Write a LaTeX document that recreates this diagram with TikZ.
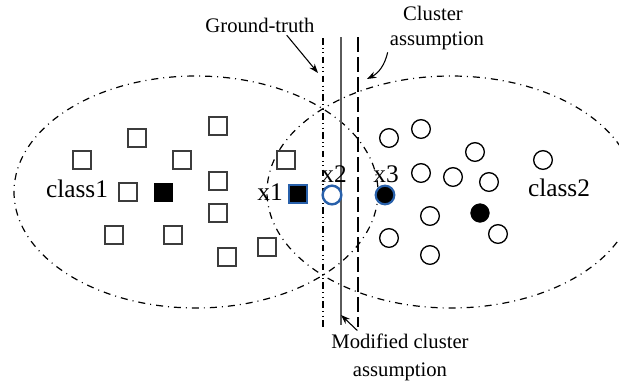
\documentclass[tikz,border=0pt]{standalone}
\usepackage{fontspec}
\setmainfont{Liberation Serif}
\usetikzlibrary{arrows.meta}

\definecolor{ptblue}{RGB}{40,96,170}
\definecolor{sqgray}{RGB}{60,60,60}
\definecolor{linegray}{RGB}{90,90,90}

\tikzset{
  sq/.style={draw=sqgray,line width=1.2pt,fill=white,minimum size=13.5pt,inner sep=0pt},
  fullsq/.style={draw=black,fill=black,minimum size=13.5pt,inner sep=0pt},
  dot/.style={circle,draw=black,line width=1pt,fill=white,minimum size=14pt,inner sep=0pt},
  fulldot/.style={circle,draw=black,fill=black,minimum size=14pt,inner sep=0pt},
  note/.style={font=\fontsize{15.5}{18}\selectfont,inner sep=2pt},
  lbl/.style={font=\fontsize{19}{22}\selectfont,inner sep=1pt},
  clustline/.style={line width=0.9pt,dash pattern=on 5.25pt off 3.75pt on 0.75pt off 3.75pt},
  gtline/.style={line width=0.9pt,dash pattern=on 5pt off 2.5pt on 0.8pt off 2.5pt on 0.8pt off 2.5pt},
  caline/.style={line width=1pt,dash pattern=on 11pt off 4pt},
  pointer/.style={line width=0.8pt,-{Stealth[length=7pt,width=5pt]}}
}

\begin{document}
\begin{tikzpicture}[x=0.75pt,y=-0.75pt]
\useasboundingbox (0,0) rectangle (619,383);

% the two classes
\draw[clustline] (196,192) ellipse [x radius=182,y radius=116];
\draw[clustline] (451,192) ellipse [x radius=184,y radius=116];

% separating lines
\coordinate (gttop) at (323,38);
\coordinate (gtbot) at (323,327);
\coordinate (mctop) at (341,37);
\coordinate (mcbot) at (341,325);
\coordinate (catop) at (358,37);
\coordinate (cabot) at (358,327);
\draw[gtline] (gttop) -- (gtbot);
\draw[linegray,line width=1.5pt] (mctop) -- (mcbot);
\draw[caline] (catop) -- (cabot);

% class 1 samples
\node[sq] (s1) at (137,138) {};
\node[sq] (s2) at (218,126) {};
\node[sq] (s3) at (82,160) {};
\node[sq] (s4) at (182,160) {};
\node[sq] (s5) at (128,192) {};
\node[sq] (s6) at (218,181) {};
\node[sq] (s7) at (218,213) {};
\node[sq] (s8) at (114,235) {};
\node[sq] (s9) at (173,235) {};
\node[sq] (s10) at (227,257) {};
\node[sq] (s11) at (267,247) {};
\node[sq] (s12) at (286,160) {};
\node[fullsq] (c1) at (163,192) {};

% class 2 samples
\node[dot] (d1) at (389,138) {};
\node[dot] (d2) at (421,129) {};
\node[dot] (d3) at (475,152) {};
\node[dot] (d4) at (543,160) {};
\node[dot] (d5) at (421,173) {};
\node[dot] (d6) at (453,177) {};
\node[dot] (d7) at (489,182) {};
\node[dot] (d8) at (430,216) {};
\node[dot] (d9) at (389,238) {};
\node[dot] (d10) at (498,234) {};
\node[dot] (d11) at (430,255) {};
\node[fulldot] (c2) at (480,213) {};

% the three marked samples
\node[fullsq,draw=ptblue,line width=1.6pt,minimum size=14pt] (x1) at (298,194) {};
\node[dot,draw=ptblue,line width=1.8pt] (x2) at (332,195) {};
\node[fulldot,draw=ptblue,line width=1.6pt] (x3) at (385,195) {};

% labels
\node[lbl,anchor=base] (class1) at (77,197) {class1};
\node[lbl,anchor=base] (class2) at (559,196) {class2};
\node[lbl,anchor=base] (x1lbl) at (270,200) {x1};
\node[lbl,anchor=base] (x2lbl) at (334,182) {x2};
\node[lbl,anchor=base] (x3lbl) at (386,182) {x3};

\node[note,anchor=base] (gt) at (260,32) {Ground-truth};
\node[note,anchor=base] (ca1) at (433,20) {Cluster};
\node[note,anchor=base] (ca2) at (437,45) {assumption};
\node[note,anchor=base] (mc1) at (400,348) {Modified cluster};
\node[note,anchor=base] (mc2) at (400,376) {assumption};

% pointers
\coordinate (gthit) at (318,73);
\coordinate (cahit) at (367,79);
\coordinate (mchit) at (341,315);
\draw[pointer] ([xshift=20pt]gt.south) -- (gthit);
\draw[pointer] ([xshift=-37pt]ca2.south) to[bend left=25] (cahit);
\draw[pointer] ([xshift=-32pt]mc1.north) -- (mchit);
\end{tikzpicture}
\end{document}
